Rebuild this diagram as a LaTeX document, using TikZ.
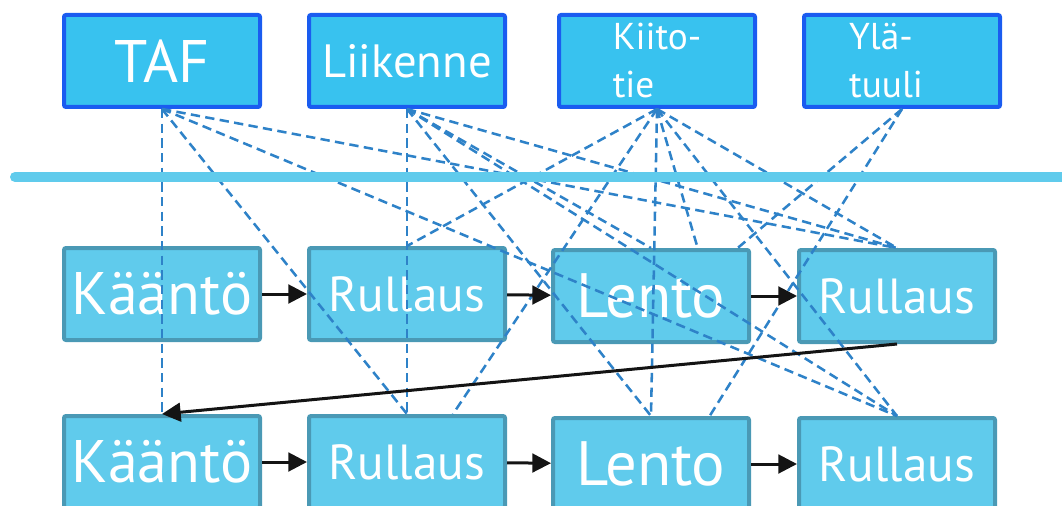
\documentclass[tikz,border=0pt]{standalone}
\usepackage{fontspec}
\setmainfont{PT Sans}
\usepackage{tikz}
\usetikzlibrary{arrows.meta}
\usepackage{xcolor}
\definecolor{topfill}{HTML}{38C2EF}
\definecolor{topline}{HTML}{1A5CF0}
\definecolor{phasefill}{HTML}{60CBEC}
\definecolor{phaseline}{HTML}{4A99B5}
\definecolor{linkblue}{HTML}{2E82C8}
\definecolor{flowblack}{HTML}{141414}
\tikzset{
        topbox/.style={draw=topline, fill=topfill, line width=3pt, rounded corners=1.5pt, minimum width=147pt, minimum height=69pt, inner sep=0pt, text=white},
        phasebox/.style={draw=phaseline, fill=phasefill, line width=3pt, rounded corners=1.5pt, minimum width=147pt, minimum height=69pt, inner sep=0pt, text=white},
        big/.style={font=\fontsize{45}{50}\selectfont},
        mid/.style={font=\fontsize{37}{42}\selectfont},
        small/.style={font=\fontsize{28}{36}\selectfont, align=left},
        link/.style={draw=linkblue, line width=1.9pt, dash pattern=on 7pt off 4pt},
        flow/.style={draw=flowblack, line width=2.25pt, -{Triangle[length=14pt,width=14pt]}}
}

\begin{document}
\begin{tikzpicture}[x=0.75pt, y=-0.75pt]
                \useasboundingbox (0,0) rectangle (1062,506);
                % tietolähteet
                \node[topbox, big] (taf) at (162,61) {TAF};
                \node[topbox, mid, font=\fontsize{35}{42}\selectfont] (liikenne) at (407,61) {Liikenne};
                \node[topbox, small] (kiitotie) at (657,61) {Kiito-\\tie};
                \node[topbox] (ylatuuli) at (902,61) {};
                \node[small, text=white, inner sep=0pt] (ylateksti) at (886,61) {Ylä-\\tuuli};

                % vaiheet
                \node[phasebox, big] (k1) at (162,294) {Kääntö};
                \node[phasebox, mid] (r1) at (407,294) {Rullaus};
                \node[phasebox, big, font=\fontsize{47}{50}\selectfont] (l1) at (651,296) {Lento};
                \node[phasebox, mid] (s1) at (897,296) {Rullaus};
                \node[phasebox, big] (k2) at (162,462) {Kääntö};
                \node[phasebox, mid] (r2) at (407,462) {Rullaus};
                \node[phasebox, big, font=\fontsize{47}{50}\selectfont] (l2) at (651,464) {Lento};
                \node[phasebox, mid] (s2) at (897,464) {Rullaus};

                \foreach \from/\to in {taf/k2, taf/r2, taf/s1, taf/s2, liikenne/r2, liikenne/l1, liikenne/l2, liikenne/s1, liikenne/s2, kiitotie/r1, kiitotie/l2, kiitotie/s1, kiitotie/s2} {
                        \draw[link] (\from.south) -- (\to.north);
                    }
                \foreach \from/\to/\dx in {kiitotie/r2/34.5pt, kiitotie/l1/35pt, ylatuuli/l1/65pt, ylatuuli/l2/44pt} {
                        \draw[link] (\from.south) -- ([xshift=\dx]\to.north);
                    }

                \draw[line width=7.5pt, phasefill, line cap=round] (15,177) -- (1075,177);

                \draw[flow] (k1) -- (r1);
                \draw[flow] (r1) -- (l1);
                \draw[flow] (l1) -- (s1);
                \draw[flow] (s1.south) -- (k2.north);
                \draw[flow] (k2) -- (r2);
                \draw[flow] (r2) -- (l2);
                \draw[flow] (l2) -- (s2);
            \end{tikzpicture}
\end{document}
